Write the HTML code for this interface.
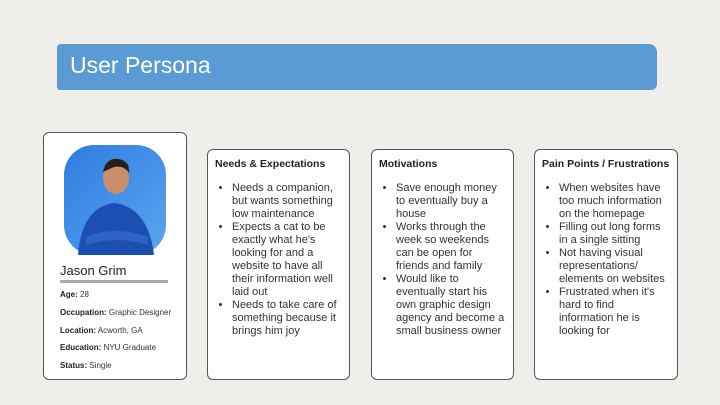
<!DOCTYPE html>
<html><head><meta charset="utf-8"><style>
body{margin:0;width:720px;height:405px;background:#efeeea;font-family:"Liberation Sans",sans-serif;position:relative;overflow:hidden}
.banner{position:absolute;left:57px;top:44px;width:600px;height:46px;background:#5b9bd5;border-radius:4px 8px 6px 3px}
.title{position:absolute;left:70px;top:52px;color:#fff;font-size:23px;}
.card{position:absolute;background:#fff;border:1px solid #555;border-radius:6px;box-sizing:border-box}
.h{position:absolute;left:7px;top:8px;font-size:10.5px;font-weight:bold;color:#222}
ul{position:absolute;left:0;top:32px;margin:0;padding-left:24px;padding-right:0;font-size:11px;line-height:13px;color:#333;white-space:nowrap}
li{margin:0}
.f{position:absolute;left:16px;font-size:8px;color:#333}
.f b{color:#222}
</style></head><body>
<div class="banner"></div>
<div class="title">User Persona</div>

<div class="card" style="left:43px;top:132px;width:144px;height:248px">
 <svg style="position:absolute;left:20px;top:12px" width="102" height="110">
  <defs><linearGradient id="g" x1="0" y1="0" x2="1" y2="1"><stop offset="0" stop-color="#2f7ce0"/><stop offset="1" stop-color="#5aa5f0"/></linearGradient></defs>
  <rect width="102" height="110" rx="30" fill="url(#g)"/>
  <path d="M14 110 Q18 62 50 58 Q84 62 90 110Z" fill="#1c4fb0"/>
  <ellipse cx="52" cy="33" rx="13" ry="16" fill="#c98f6c"/>
  <path d="M39 27 Q42 12 55 14 Q66 16 65 28 Q60 20 50 22Z" fill="#2a1e18"/>
  <path d="M22 92 Q52 80 84 92 L84 100 Q52 90 22 100Z" fill="#2d62c8"/>
 </svg>
 <div style="position:absolute;left:16px;top:130px;font-size:13px;color:#222">Jason Grim</div>
 <div style="position:absolute;left:16px;top:147px;width:108px;height:3px;background:#aaa"></div>
 <div class="f" style="top:157px"><b>Age:</b> 28</div>
 <div class="f" style="top:175px"><b>Occupation:</b> Graphic Designer</div>
 <div class="f" style="top:193px"><b>Location:</b> Acworth, GA</div>
 <div class="f" style="top:210px"><b>Education:</b> NYU Graduate</div>
 <div class="f" style="top:228px"><b>Status:</b> Single</div>
</div>

<div class="card" style="left:207px;top:149px;width:143px;height:231px">
 <div class="h">Needs &amp; Expectations</div>
 <ul>
  <li>Needs a companion,<br>but wants something<br>low maintenance</li>
  <li>Expects a cat to be<br>exactly what he's<br>looking for and a<br>website to have all<br>their information well<br>laid out</li>
  <li>Needs to take care of<br>something because it<br>brings him joy</li>
 </ul>
</div>

<div class="card" style="left:371px;top:149px;width:143px;height:231px">
 <div class="h">Motivations</div>
 <ul>
  <li>Save enough money<br>to eventually buy a<br>house</li>
  <li>Works through the<br>week so weekends<br>can be open for<br>friends and family</li>
  <li>Would like to<br>eventually start his<br>own graphic design<br>agency and become a<br>small business owner</li>
 </ul>
</div>

<div class="card" style="left:534px;top:149px;width:144px;height:231px">
 <div class="h">Pain Points / Frustrations</div>
 <ul>
  <li>When websites have<br>too much information<br>on the homepage</li>
  <li>Filling out long forms<br>in a single sitting</li>
  <li>Not having visual<br>representations/<br>elements on websites</li>
  <li>Frustrated when it's<br>hard to find<br>information he is<br>looking for</li>
 </ul>
</div>
</body></html>
